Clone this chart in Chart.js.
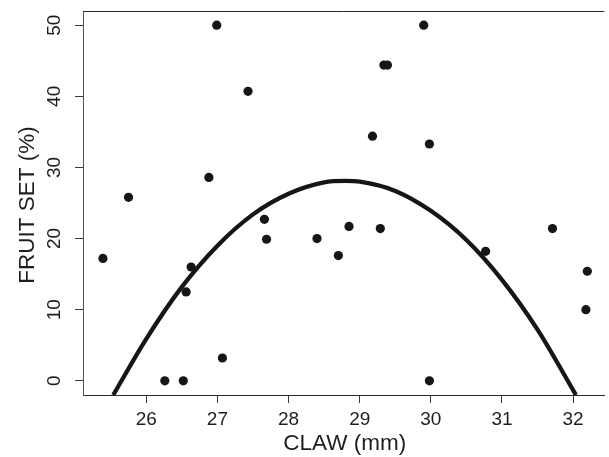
<!DOCTYPE html>
<html>
<head>
<meta charset="utf-8">
<script src="https://cdn.jsdelivr.net/npm/chart.js@4/dist/chart.umd.min.js"></script>
<style>
html,body{margin:0;padding:0;background:#fff;}
#wrap{width:609px;height:457px;position:relative;}
</style>
</head>
<body>
<div id="wrap"><canvas id="c" width="609" height="457"></canvas></div>
<script>
// Observed data: claw length (mm) vs fruit set (%)
const clawX = [25.39, 25.75, 26.26, 26.52, 26.56, 26.63, 26.88, 26.99, 27.07, 27.43, 27.66, 27.69, 28.40, 28.70, 28.85, 29.18, 29.29, 29.34, 29.39, 29.90, 29.98, 29.98, 30.77, 31.71, 32.20, 32.18];
const fruitSet = [17.2, 25.8, 0, 0, 12.5, 16.0, 28.6, 50, 3.2, 40.7, 22.7, 19.9, 20.0, 17.6, 21.7, 34.4, 21.4, 44.4, 44.4, 50, 33.3, 0, 18.2, 21.4, 15.4, 10.0];
// Fitted curve
const fitX = [25.535, 26.0, 26.5, 27.0, 27.5, 28.0, 28.5, 28.8, 29.0, 29.5, 30.0, 30.5, 31.0, 31.5, 32.04];
const fitY = [-2.0, 5.9, 13.2, 19.0, 23.4, 26.3, 27.9, 28.1, 28.0, 26.7, 23.9, 19.8, 14.2, 7.2, -2.0];
// Axis ticks and titles
const xTicks = [26, 27, 28, 29, 30, 31, 32];
const yTicks = [0, 10, 20, 30, 40, 50];
const xTitle = 'CLAW (mm)';
const yTitle = 'FRUIT SET (%)';

const FONT = '"Liberation Sans", Arial, Helvetica, sans-serif';
const INK = '#161616';

const textPlugin = {
  id: 'rtext',
  afterDraw(chart) {
    const ctx = chart.ctx;
    const xs = chart.scales.x, ys = chart.scales.y;
    const ca = chart.chartArea;
    ctx.save();
    ctx.fillStyle = '#1e1e1e';
    // top border line
    ctx.strokeStyle = '#2a2a2a';
    ctx.lineWidth = 1;
    ctx.beginPath();
    ctx.moveTo(ca.left, ca.top + 0.5);
    ctx.lineTo(ca.right, ca.top + 0.5);
    ctx.stroke();
    // x tick labels
    ctx.font = '19px ' + FONT;
    ctx.textAlign = 'center';
    ctx.textBaseline = 'alphabetic';
    xTicks.forEach(v => {
      ctx.fillText(String(v), xs.getPixelForValue(v), 425);
    });
    // y tick labels (rotated)
    yTicks.forEach(v => {
      ctx.save();
      ctx.translate(60, ys.getPixelForValue(v));
      ctx.rotate(-Math.PI / 2);
      ctx.fillText(String(v), 0, 0);
      ctx.restore();
    });
    // titles
    ctx.font = '22.5px ' + FONT;
    ctx.fillText(xTitle, (ca.left + ca.right) / 2 + 1, 450);
    ctx.save();
    ctx.translate(33.5, 205);
    ctx.rotate(-Math.PI / 2);
    ctx.fillText(yTitle, 0, 0);
    ctx.restore();
    ctx.restore();
  }
};

new Chart(document.getElementById('c'), {
  type: 'scatter',
  data: {
    datasets: [
      {
        label: 'fit',
        data: fitX.map((x, i) => ({x: x, y: fitY[i]})),
        showLine: true,
        borderColor: INK,
        borderWidth: 4.3,
        pointRadius: 0,
        cubicInterpolationMode: 'monotone',
        fill: false,
        order: 2
      },
      {
        label: 'obs',
        data: clawX.map((x, i) => ({x: x, y: fruitSet[i]})),
        backgroundColor: INK,
        borderWidth: 0,
        pointRadius: 4.6,
        order: 1
      }
    ]
  },
  options: {
    responsive: false,
    animation: false,
    layout: {padding: {top: 11, left: 0, right: 0, bottom: 0}},
    plugins: {legend: {display: false}, tooltip: {enabled: false}},
    scales: {
      x: {
        type: 'linear',
        min: 25.11,
        max: 32.44,
        afterBuildTicks: s => { s.ticks = xTicks.map(v => ({value: v})); },
        afterFit: s => { s.height = 62; },
        grid: {drawOnChartArea: false, drawTicks: true, tickLength: 8, tickColor: '#3a3a3a', tickWidth: 1},
        border: {display: true, color: '#2a2a2a', width: 1},
        ticks: {display: false}
      },
      y: {
        type: 'linear',
        min: -2,
        max: 52,
        afterBuildTicks: s => { s.ticks = yTicks.map(v => ({value: v})); },
        afterFit: s => { s.width = 83; },
        grid: {drawOnChartArea: false, drawTicks: true, tickLength: 8, tickColor: '#3a3a3a', tickWidth: 1},
        border: {display: true, color: '#555', width: 1},
        ticks: {display: false}
      }
    }
  },
  plugins: [textPlugin]
});
</script>
</body>
</html>
